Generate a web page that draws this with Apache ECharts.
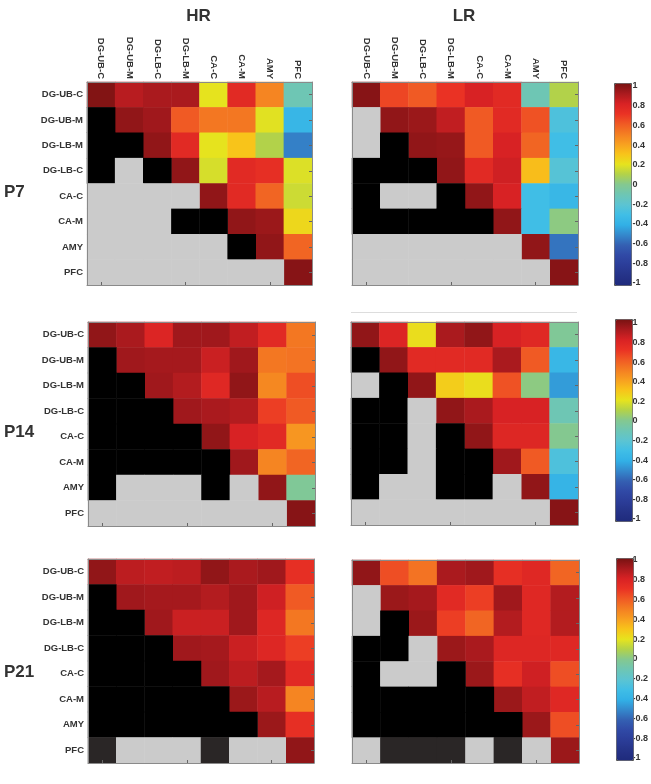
<!DOCTYPE html>
<html>
<head>
<meta charset="utf-8">
<script src="https://cdn.jsdelivr.net/npm/echarts@6/dist/echarts.min.js"></script>
<style>
html,body{margin:0;padding:0;background:#fff;}
#chart{width:651px;height:784px;}
</style>
</head>
<body>
<div id="chart"></div>
<script>
// ---- data ----
const colLabels = ['DG-UB-C','DG-UB-M','DG-LB-C','DG-LB-M','CA-C','CA-M','AMY','PFC'];
const rowLabels = ['DG-UB-C','DG-UB-M','DG-LB-M','DG-LB-C','CA-C','CA-M','AMY','PFC'];
const conditions = ['HR','LR'];
const subjects = ['P7','P14','P21'];
const colorbarMin = -1, colorbarMax = 1, colorbarStep = 0.2;
// 'K' = black cell, 'G' = gray cell, 'D' = dark gray cell
const p7HR = [
  [0.98,0.87,0.90,0.90,0.20,0.75,0.48,-0.10],
  ['K',0.95,0.92,0.60,0.52,0.52,0.19,-0.36],
  ['K','K',0.95,0.75,0.20,0.30,0.10,-0.52],
  ['K','G','K',0.95,0.17,0.75,0.72,0.18],
  ['G','G','G','G',0.95,0.75,0.57,0.15],
  ['G','G','G','K','K',0.95,0.93,0.24],
  ['G','G','G','G','G','K',0.95,0.57],
  ['G','G','G','G','G','G','G',0.97]
];
const p7LR = [
  [0.97,0.65,0.60,0.70,0.80,0.75,-0.10,0.10],
  ['G',0.95,0.93,0.85,0.60,0.75,0.62,-0.25],
  ['G','K',0.95,0.94,0.60,0.80,0.57,-0.30],
  ['K','K','K',0.95,0.75,0.82,0.32,-0.22],
  ['K','G','G','K',0.95,0.80,-0.30,-0.35],
  ['K','K','K','K','K',0.95,-0.30,0.02],
  ['G','G','G','G','G','G',0.95,-0.55],
  ['G','G','G','G','G','G','G',0.97]
];
const p14HR = [
  [0.95,0.90,0.78,0.92,0.92,0.85,0.75,0.52],
  ['K',0.92,0.91,0.91,0.83,0.92,0.52,0.53],
  ['K','K',0.92,0.88,0.76,0.95,0.47,0.63],
  ['K','K','K',0.92,0.90,0.88,0.67,0.60],
  ['K','K','K','K',0.95,0.80,0.75,0.43],
  ['K','K','K','K','K',0.92,0.48,0.57],
  ['K','G','G','G','K','G',0.95,-0.02],
  ['G','G','G','G','G','G','G',0.97]
];
const p14LR = [
  [0.95,0.78,0.22,0.90,0.95,0.80,0.76,-0.02],
  ['K',0.95,0.75,0.75,0.75,0.90,0.60,-0.35],
  ['G','K',0.95,0.27,0.22,0.62,0.02,-0.45],
  ['K','K','G',0.95,0.90,0.80,0.80,-0.10],
  ['K','K','G','K',0.95,0.77,0.77,0.00],
  ['K','K','G','K','K',0.92,0.60,-0.25],
  ['K','G','G','K','K','G',0.95,-0.37],
  ['G','G','G','G','G','G','G',0.97]
];
const p21HR = [
  [0.95,0.86,0.85,0.86,0.95,0.90,0.92,0.72],
  ['K',0.92,0.91,0.91,0.88,0.92,0.82,0.60],
  ['K','K',0.92,0.83,0.83,0.92,0.77,0.52],
  ['K','K','K',0.92,0.91,0.83,0.77,0.67],
  ['K','K','K','K',0.92,0.86,0.91,0.75],
  ['K','K','K','K','K',0.93,0.87,0.48],
  ['K','K','K','K','K','K',0.93,0.72],
  ['D','G','G','G','D','G','G',0.95]
];
const p21LR = [
  [0.95,0.63,0.53,0.90,0.92,0.72,0.76,0.57],
  ['G',0.93,0.91,0.75,0.67,0.92,0.76,0.88],
  ['G','K',0.93,0.67,0.57,0.88,0.76,0.88],
  ['K','K','G',0.93,0.90,0.77,0.77,0.76],
  ['K','G','G','K',0.93,0.72,0.82,0.63],
  ['K','K','K','K','K',0.93,0.85,0.76],
  ['K','K','K','K','K','K',0.93,0.63],
  ['G','D','D','D','G','D','G',0.93]
];

// ---- style / layout ----
const FONT = '"Liberation Sans", Arial, sans-serif';
const TXT = '#333';
const cmap = ['#1f2a7c','#253388','#2b3d98','#3049a6','#3460b2','#3488cc','#32b0e6','#40bee6','#5cc4d2','#6ec6b4',
              '#84c890','#b2d24a','#e6e31e','#f8c41a','#f8a020','#f47e22','#f05a24','#ea3224','#d82224','#aa1a1e','#781212'];
const maskCode = {K:1, G:2, D:3};

const panels = [
  {mat:p7HR,  left:87,  top:82,  w:225, h:203, showX:true,  showY:true},
  {mat:p7LR,  left:352, top:82,  w:226, h:203, showX:true,  showY:false},
  {mat:p14HR, left:88,  top:322, w:227, h:204, showX:false, showY:true},
  {mat:p14LR, left:351, top:322, w:227, h:203, showX:false, showY:false},
  {mat:p21HR, left:88,  top:559, w:226, h:204, showX:false, showY:true},
  {mat:p21LR, left:352, top:560, w:227, h:203, showX:false, showY:false}
];
const bars = [
  {left:614, top:83,  w:17, h:202, labTop:86,  labH:197},
  {left:615, top:319, w:17, h:202, labTop:323, labH:196},
  {left:616, top:558, w:17, h:202, labTop:560, labH:198}
];

function numData(mat){const o=[];mat.forEach((row,r)=>row.forEach((v,c)=>{if(typeof v==='number')o.push([c,r,v]);}));return o;}
function maskData(mat){const o=[];mat.forEach((row,r)=>row.forEach((v,c)=>{if(typeof v!=='number')o.push([c,r,maskCode[v]]);}));return o;}

const grid=[], xAxis=[], yAxis=[], series=[], visualMap=[];
const lineCol = '#8a8a8a';
panels.forEach((p,i)=>{
  grid.push({left:p.left, top:p.top, width:p.w, height:p.h, containLabel:false});
  xAxis.push({type:'category', gridIndex:i, data:colLabels, position:'top', z:5,
    axisLine:{show:true, lineStyle:{color:lineCol, width:1}}, axisTick:{show:false}, splitLine:{show:false},
    axisLabel:{show:p.showX, rotate:90, margin:3, fontSize:9.5, fontWeight:'bold', fontFamily:FONT, color:TXT}});
  xAxis.push({type:'category', gridIndex:i, data:colLabels, position:'bottom', z:5,
    axisLine:{show:true, lineStyle:{color:lineCol, width:1}},
    axisTick:{show:true, inside:true, length:3, alignWithLabel:true, lineStyle:{color:'#666'}},
    axisLabel:{show:false}, splitLine:{show:false}});
  yAxis.push({type:'category', gridIndex:i, data:rowLabels, inverse:true, position:'left', z:5,
    axisLine:{show:true, lineStyle:{color:lineCol, width:1}}, axisTick:{show:false}, splitLine:{show:false},
    axisLabel:{show:p.showY, margin:4, fontSize:9.5, fontWeight:'bold', fontFamily:FONT, color:TXT}});
  yAxis.push({type:'category', gridIndex:i, data:rowLabels, inverse:true, position:'right', z:5,
    axisLine:{show:true, lineStyle:{color:lineCol, width:1}},
    axisTick:{show:true, inside:true, length:3, alignWithLabel:true, lineStyle:{color:'#666'}},
    axisLabel:{show:false}, splitLine:{show:false}});
  series.push({type:'heatmap', xAxisIndex:2*i, yAxisIndex:2*i, data:numData(p.mat),
    itemStyle:{borderWidth:0}, emphasis:{disabled:true}, silent:true, progressive:0});
  series.push({type:'heatmap', xAxisIndex:2*i, yAxisIndex:2*i, data:maskData(p.mat),
    itemStyle:{borderWidth:0}, emphasis:{disabled:true}, silent:true, progressive:0});
});
bars.forEach((b,k)=>{
  const gi = panels.length + k;
  grid.push({left:b.left, top:b.labTop, width:b.w, height:b.labH});
  xAxis.push({type:'value', gridIndex:gi, show:false, min:0, max:1});
  yAxis.push({type:'value', gridIndex:gi, min:colorbarMin, max:colorbarMax, interval:colorbarStep, position:'right',
    axisLine:{show:false}, axisTick:{show:false}, splitLine:{show:false},
    axisLabel:{margin:5, fontSize:9, fontWeight:'bold', fontFamily:FONT, color:TXT}});
  visualMap.push({type:'continuous', min:colorbarMin, max:colorbarMax, calculable:false, hoverLink:false,
    seriesIndex:[4*k, 4*k+2], orient:'vertical', left:b.left, top:b.top, itemWidth:b.w, itemHeight:b.h,
    padding:0, borderColor:'#555', borderWidth:1, inRange:{color:cmap}});
});
visualMap.push({type:'piecewise', show:false, seriesIndex:[1,3,5,7,9,11],
  pieces:[{value:1, color:'#000000'},{value:2, color:'#cbcbcb'},{value:3, color:'#2a2626'}]});

const graphic = [];
conditions.forEach((t,i)=>{
  const p = panels[i];
  graphic.push({type:'text', x:p.left + p.w/2 - 1, y:16,
    style:{text:t, font:'bold 17px '+FONT, fill:TXT, textAlign:'center', textVerticalAlign:'middle', align:'center', verticalAlign:'middle'}});
});
const subjY = [192, 432, 672];
subjects.forEach((t,i)=>{
  graphic.push({type:'text', x:4, y:subjY[i],
    style:{text:t, font:'bold 17px '+FONT, fill:TXT, textAlign:'left', textVerticalAlign:'middle', align:'left', verticalAlign:'middle'}});
});
graphic.push({type:'line', shape:{x1:351, y1:312.5, x2:577, y2:312.5}, style:{stroke:'#dddddd', lineWidth:1}});

const chart = echarts.init(document.getElementById('chart'), null, {renderer:'canvas'});
chart.setOption({
  backgroundColor:'#ffffff',
  animation:false,
  grid, xAxis, yAxis, series, visualMap, graphic
});
</script>
</body>
</html>
